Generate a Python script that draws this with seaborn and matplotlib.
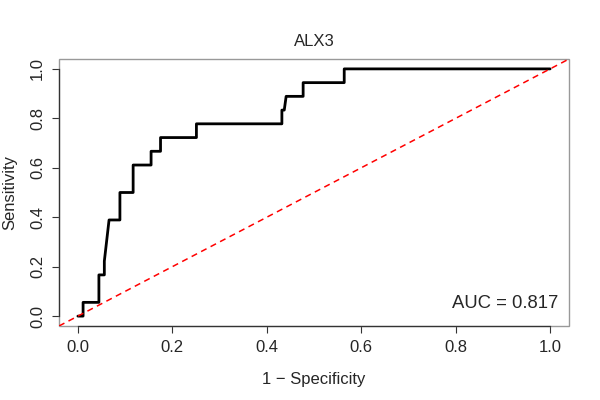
import pandas as pd
import seaborn as sns
import matplotlib.pyplot as plt
from matplotlib.patches import Rectangle

# ROC curve points (1 - specificity, sensitivity)
fpr = [0.0, 0.011, 0.011, 0.0445, 0.0445, 0.056, 0.056, 0.066, 0.089, 0.089,
       0.117, 0.117, 0.155, 0.155, 0.175, 0.175, 0.251, 0.251, 0.432, 0.432,
       0.437, 0.441, 0.477, 0.477, 0.564, 0.564, 1.0]
tpr = [0.0, 0.0, 0.0556, 0.0556, 0.1667, 0.1667, 0.2222, 0.3889, 0.3889, 0.5,
       0.5, 0.6111, 0.6111, 0.6667, 0.6667, 0.7222, 0.7222, 0.7778, 0.7778, 0.8333,
       0.8333, 0.8889, 0.8889, 0.9444, 0.9444, 1.0, 1.0]
diag = [-0.04, 1.04]
ticks = [0.0, 0.2, 0.4, 0.6, 0.8, 1.0]
gene = "ALX3"
auc = 0.817

roc = pd.DataFrame({"fpr": fpr, "tpr": tpr})
ref = pd.DataFrame({"x": diag, "y": diag})

sns.set_theme(style="white")
plt.rcParams["font.family"] = ["Liberation Sans", "DejaVu Sans"]

fig = plt.figure(figsize=(6, 4), dpi=100)
ax = fig.add_axes([59 / 600, 74 / 400, 510 / 600, 267 / 400])

sns.lineplot(data=roc, x="fpr", y="tpr", sort=False, estimator=None,
             color="black", linewidth=2.0, ax=ax)
sns.lineplot(data=ref, x="x", y="y", sort=False, estimator=None,
             color="red", linewidth=1.1, dashes=False, ax=ax)
ax.lines[-1].set_dashes((4, 3))

ax.set_xlim(-0.04, 1.04)
ax.set_ylim(-0.04, 1.04)
ax.set_xticks(ticks)
ax.set_yticks(ticks)
ax.set_xticklabels([f"{t:.1f}" for t in ticks])
ax.set_yticklabels([f"{t:.1f}" for t in ticks], rotation=90, va="center")
ax.tick_params(axis="both", direction="out", length=5, width=0.8,
               color="#333333", labelsize=12, pad=5, left=True, bottom=True)

# R-like frame: grey box, dark axis lines over the data range
for s in ["top", "right"]:
    ax.spines[s].set_visible(False)
for s in ["left", "bottom"]:
    ax.spines[s].set_bounds(0, 1)
    ax.spines[s].set_color("#333333")
    ax.spines[s].set_linewidth(0.9)
ax.add_patch(Rectangle((0, 0), 1, 1, transform=ax.transAxes, fill=False,
                       edgecolor="#999999", linewidth=1.0, clip_on=False))

ax.set_xlabel("1 \u2212 Specificity", fontsize=12, labelpad=12)
ax.set_ylabel("Sensitivity", fontsize=12, labelpad=9)
ax.set_title(gene, fontsize=12, pad=9)
ax.text(1.017, 0.052, f"AUC = {auc:.3f}", ha="right", va="center", fontsize=13.3)

fig.savefig("out.png", dpi=100)
